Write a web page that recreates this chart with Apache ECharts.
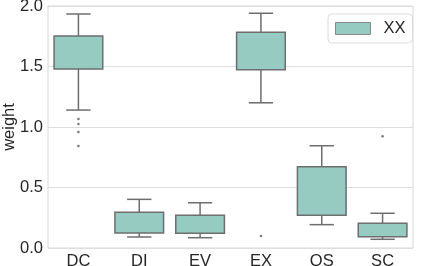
<!DOCTYPE html>
<html><head><meta charset="utf-8">
<script src="https://cdn.jsdelivr.net/npm/echarts@6/dist/echarts.min.js"></script>
<style>html,body{margin:0;padding:0;background:#fff}#c{width:422px;height:266px}</style>
</head><body><div id="c"></div>
<script>
const categories = ['DC','DI','EV','EX','QS','SC'];
// [whiskerLow, Q1, Q3, whiskerHigh]
const lowWhisker = [1.14, 0.091, 0.085, 1.20, 0.193, 0.072];
const q1 = [1.479, 0.124, 0.121, 1.474, 0.27, 0.093];
const q3 = [1.752, 0.295, 0.27, 1.783, 0.672, 0.204];
const highWhisker = [1.934, 0.402, 0.374, 1.94, 0.845, 0.287];
const outlierCats = ['DC','DC','DC','DC','EX','SC'];
const outlierVals = [1.066, 1.025, 0.959, 0.843, 0.10, 0.923];
const yTicks = [0, 0.5, 1.0, 1.5, 2.0];

const boxData = categories.map((c,i)=>[i, lowWhisker[i], q1[i], q3[i], highWhisker[i]]);
const outData = outlierCats.map((c,i)=>[categories.indexOf(c), outlierVals[i]]);

const FILL = '#95cbc1', EDGE = '#6e6e6e', TXT = '#262626';
const FONT = 'Liberation Sans, Arial';
const FS = 16.5;
const chart = echarts.init(document.getElementById('c'), null, {renderer:'canvas'});
chart.setOption({
  animation:false,
  grid:{left:48, top:6, right:9, bottom:18, containLabel:false, outerBoundsMode:'none',
        show:true, borderColor:'#d6d6d6', borderWidth:1},
  legend:{
    data:[{name:'XX', icon:'rect'}],
    left:328, top:14,
    padding:[5,7,5,7],
    itemWidth:35, itemHeight:12,
    itemStyle:{color:FILL, borderColor:'#888', borderWidth:1},
    textStyle:{fontFamily:FONT, fontSize:FS, lineHeight:19, color:TXT, padding:[0,0,0,8]},
    borderColor:'#dcdcdc', borderWidth:1, borderRadius:4, backgroundColor:'#fff'
  },
  xAxis:{type:'category', data:categories,
    axisLine:{show:false}, axisTick:{show:false}, splitLine:{show:false},
    axisLabel:{color:TXT, fontFamily:FONT, fontSize:FS, margin:5}},
  yAxis:{type:'value', min:0, max:2, interval:0.5,
    name:'weight', nameLocation:'middle', nameGap:30, nameMoveOverlap:false,
    nameTextStyle:{color:TXT, fontFamily:FONT, fontSize:FS},
    axisLine:{show:false}, axisTick:{show:false},
    splitLine:{lineStyle:{color:'#dedede', width:1}},
    axisLabel:{color:TXT, fontFamily:FONT, fontSize:FS, margin:5,
      formatter:v=>v.toFixed(1)}},
  series:[
    {name:'XX', type:'custom', data:boxData, z:3,
     itemStyle:{color:FILL, borderColor:EDGE},
     encode:{x:0, y:[1,2,3,4]},
     renderItem:function(params, api){
       const i = api.value(0);
       const pLow = api.coord([i, api.value(1)]);
       const pQ1 = api.coord([i, api.value(2)]);
       const pQ3 = api.coord([i, api.value(3)]);
       const pHigh = api.coord([i, api.value(4)]);
       const bw = api.size([1,0])[0]*0.8;
       const cw = bw/2;
       const x = pQ1[0];
       const ls = {stroke:EDGE, lineWidth:1.5};
       return {type:'group', children:[
         {type:'line', shape:{x1:x,y1:pQ3[1],x2:x,y2:pHigh[1]}, style:ls},
         {type:'line', shape:{x1:x,y1:pQ1[1],x2:x,y2:pLow[1]}, style:ls},
         {type:'line', shape:{x1:x-cw/2,y1:pHigh[1],x2:x+cw/2,y2:pHigh[1]}, style:ls},
         {type:'line', shape:{x1:x-cw/2,y1:pLow[1],x2:x+cw/2,y2:pLow[1]}, style:ls},
         {type:'rect', shape:{x:x-bw/2, y:pQ3[1], width:bw, height:pQ1[1]-pQ3[1]},
          style:{fill:FILL, stroke:EDGE, lineWidth:1.5}}
       ]};
     }},
    {type:'scatter', data:outData, symbolSize:2.5, z:4,
     itemStyle:{color:'#555'}}
  ]
});
</script></body></html>
